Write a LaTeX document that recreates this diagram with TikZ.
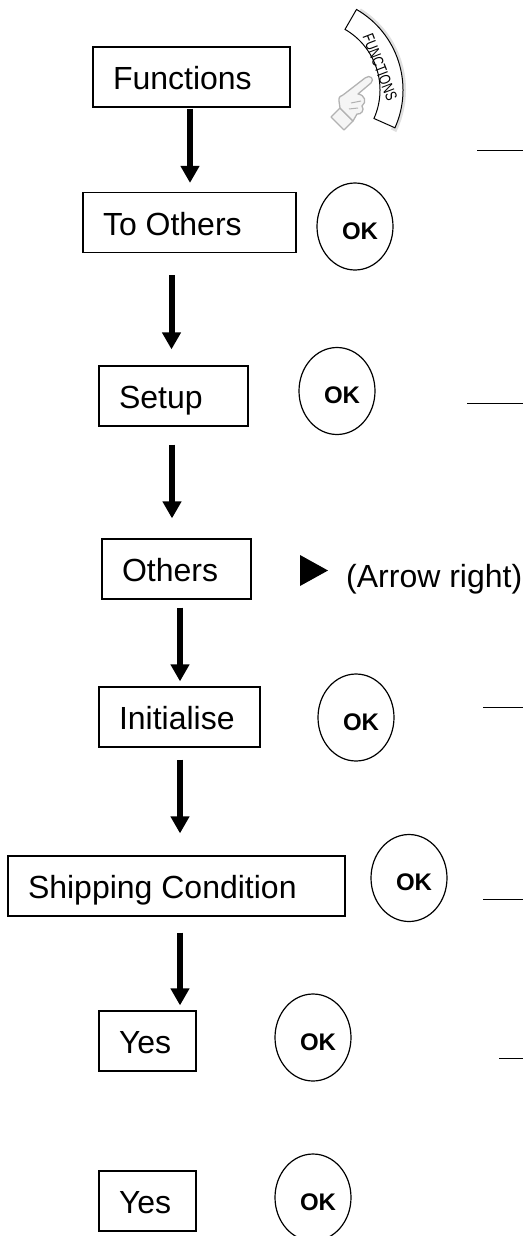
\documentclass[tikz,border=0pt]{standalone}
\usepackage{fontspec}
\setmainfont{Liberation Sans}
\newfontfamily\narrowfont[FakeStretch=0.75]{Liberation Sans}
\usetikzlibrary{arrows.meta,shapes.geometric}
\newcommand{\boxtext}[2]{\makebox[#1][l]{#2}}
\begin{document}
\begin{tikzpicture}[x=1pt,y=1pt,
  stepbox/.style={draw, line width=1.2pt, rectangle, inner xsep=20pt, inner ysep=0pt,
    minimum height=60pt, text height=25.5pt, text depth=0pt,
    font=\fontsize{32pt}{38pt}\selectfont},
  okbtn/.style={draw, ellipse, line width=1.2pt, inner sep=0pt, minimum width=76pt,
    minimum height=87pt, text height=25.2pt, text depth=0pt,
    font=\bfseries\fontsize{24pt}{28pt}\selectfont},
  flow/.style={line width=6pt, -{Triangle[width=18pt,length=17pt]}},
  edgeline/.style={line width=1pt},
  handline/.style={draw=gray!60, line width=1.3pt, fill=gray!8, line join=round},
  plaintext/.style={inner sep=0pt, font=\fontsize{32pt}{38pt}\selectfont}]
\useasboundingbox (0,0) rectangle (522,-1236);

% step boxes
\node[stepbox] (functions) at (191.5,-77)   {\boxtext{157pt}{Functions}};
\node[stepbox] (toothers)  at (189.5,-222.5){\boxtext{173pt}{To Others}};
\node[stepbox] (setup)     at (173.5,-396)  {\boxtext{109pt}{Setup}};
\node[stepbox] (others)    at (176.5,-569)  {\boxtext{109pt}{Others}};
\node[stepbox] (init)      at (179.5,-717)  {\boxtext{121pt}{Initialise}};
\node[stepbox] (ship)      at (176.5,-886)  {\boxtext{297pt}{Shipping Condition}};
\node[stepbox] (yesa)      at (147.5,-1041) {\boxtext{57pt}{Yes}};
\node[stepbox] (yesb)      at (147.5,-1201) {\boxtext{57pt}{Yes}};

% OK buttons
\node[okbtn] (oka) at (355,-226.5)  {\hspace*{10pt}OK};
\node[okbtn] (okb) at (337,-391)    {\hspace*{10pt}OK};
\node[okbtn] (okc) at (356,-717.5)  {\hspace*{10pt}OK};
\node[okbtn] (okd) at (409,-878)    {\hspace*{10pt}OK};
\node[okbtn] (oke) at (313,-1037.5) {\hspace*{10pt}OK};
\node[okbtn] (okf) at (313,-1197.5) {\hspace*{10pt}OK};

% arrow right symbol and label
\fill (300,-555) -- (328,-570.5) -- (300,-586) -- cycle;
\node[plaintext, anchor=base west] (arrowlabel) at (346,-587) {(Arrow right)};

% flow arrows
\draw[flow, shorten <=1pt,  shorten >=9pt]  ([xshift=-1.5pt]functions.south) -- ([xshift=0.5pt]toothers.north);
\draw[flow, shorten <=22pt, shorten >=16pt] ([xshift=-18pt]toothers.south) -- ([xshift=-2pt]setup.north);
\draw[flow, shorten <=18pt, shorten >=20pt] ([xshift=-1.5pt]setup.south) -- ([xshift=-4.5pt]others.north);
\draw[flow, shorten <=8pt,  shorten >=5pt]  ([xshift=3.5pt]others.south) -- ([xshift=0.5pt]init.north);
\draw[flow, shorten <=12pt, shorten >=22pt] ([xshift=0.5pt]init.south) -- ([xshift=3.5pt]ship.north);
\draw[flow, shorten <=16pt, shorten >=5pt]  ([xshift=3.5pt]ship.south) -- ([xshift=32.5pt]yesa.north);

% thin lines at the right edge
\draw[edgeline] (477,-150) -- (525,-150);
\draw[edgeline] (467,-403) -- (525,-403);
\draw[edgeline] (483,-707) -- (525,-707);
\draw[edgeline] (483,-899) -- (525,-899);
\draw[edgeline] (499,-1058) -- (525,-1058);

% FUNCTIONS button
\fill[gray!25] ([shift={(310,-90)}]58:96) arc[start angle=58,end angle=-26,radius=96]
  -- ([shift={(310,-90)}]-26:90) arc[start angle=-26,end angle=58,radius=90] -- cycle;
\draw[line width=1pt, fill=white] ([shift={(310,-90)}]60:93) arc[start angle=60,end angle=-24,radius=93]
  -- ([shift={(310,-90)}]-24:70) arc[start angle=-24,end angle=60,radius=70] -- cycle;
\node[inner sep=0pt, rotate=-69, font=\narrowfont\fontsize{16pt}{16pt}\selectfont]
  (fnlabel) at (380,-67) {FUNCTIONS};
% hand
\path[handline] (331,-117) -- (340,-108) -- (353,-121) -- (344,-130) -- cycle;
\path[handline] (340,-108) -- (339,-101) .. controls (339,-97) .. (343,-95) -- (365,-78)
  .. controls (370,-74) and (375,-79) .. (371,-83) -- (358,-94)
  .. controls (365,-95) and (367,-102) .. (362,-106)
  .. controls (365,-110) and (361,-115) .. (357,-114) -- (353,-121) -- cycle;
\draw[gray!60, line width=1pt] (351,-103) -- (361,-101);
\draw[gray!60, line width=1pt] (349,-109) -- (358,-108);
\end{tikzpicture}
\end{document}
